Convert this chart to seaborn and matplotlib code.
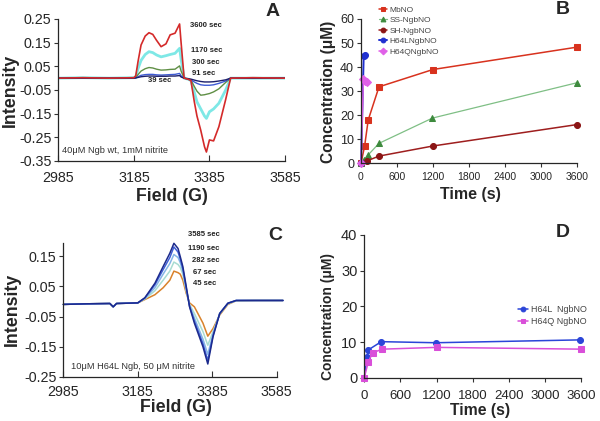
import numpy as np
import pandas as pd
import matplotlib
matplotlib.use("Agg")
import matplotlib.pyplot as plt
import seaborn as sns

# ---------------- DATA ----------------
# Panel A: EPR spectra, 40uM Ngb wt + 1mM nitrite
field_A = [2985, 3050, 3120, 3185, 3190, 3196, 3204, 3215, 3225, 3235, 3245, 3257, 3270,
           3281, 3294, 3306, 3310, 3318, 3328, 3336, 3345, 3352, 3362, 3372, 3377, 3385,
           3396, 3410, 3428, 3441, 3500, 3585]
A_3600 = [0.0, 0.002, 0.0, 0.002, 0.01, 0.07, 0.14, 0.178, 0.192, 0.185, 0.16, 0.133, 0.145,
          0.183, 0.19, 0.229, 0.15, 0.0, -0.004, -0.01, -0.10, -0.16, -0.22, -0.29, -0.312,
          -0.261, -0.265, -0.205, -0.09, 0.0, 0.002, 0.0]
A_1170 = [0.0, 0.002, 0.0, 0.002, 0.005, 0.04, 0.075, 0.10, 0.112, 0.108, 0.098, 0.09, 0.095,
          0.10, 0.105, 0.126, 0.08, 0.0, -0.004, -0.01, -0.06, -0.10, -0.13, -0.16, -0.17,
          -0.142, -0.13, -0.106, -0.05, 0.0, 0.0, 0.0]
A_300 = [0.0, 0.0, 0.0, 0.0, 0.002, 0.015, 0.03, 0.04, 0.045, 0.043, 0.038, 0.034, 0.035,
         0.037, 0.038, 0.052, 0.03, 0.0, -0.004, -0.008, -0.035, -0.055, -0.072, -0.07,
         -0.068, -0.065, -0.058, -0.045, -0.018, 0.0, 0.0, 0.0]
A_91 = [0.0, 0.0, 0.0, 0.0, 0.001, 0.006, 0.012, 0.015, 0.016, 0.016, 0.014, 0.013, 0.014,
        0.015, 0.016, 0.02, 0.01, 0.0, -0.004, -0.008, -0.016, -0.022, -0.028, -0.03, -0.03,
        -0.03, -0.028, -0.022, -0.012, 0.0, 0.0, 0.0]
A_39 = [0.0, 0.0, 0.0, 0.0, 0.001, 0.003, 0.006, 0.008, 0.009, 0.009, 0.008, 0.008, 0.008,
        0.009, 0.009, 0.011, 0.005, 0.0, -0.002, -0.004, -0.008, -0.011, -0.014, -0.016,
        -0.016, -0.016, -0.015, -0.012, -0.007, 0.0, 0.0, 0.0]
A_labels = ["3600 sec", "1170 sec", "300 sec", "91 sec", "39 sec"]

# Panel B: NO-heme formation
t_Mb = [0, 60, 120, 300, 1200, 3600]
c_Mb = [0, 7.1, 18, 31.8, 39, 48.3]
t_SS = [0, 50, 120, 300, 1190, 3600]
c_SS = [0, 1.5, 3.5, 8.3, 18.8, 33.5]
t_SH = [0, 100, 300, 1200, 3600]
c_SH = [0, 1.0, 3.0, 7.2, 16.1]
t_H64L_B = [0, 45, 67]
c_H64L_B = [0, 44.5, 45.2]
t_H64Q_B = [0, 40, 67, 100]
c_H64Q_B = [0, 35.2, 34.3, 33.8]
B_names = ["MbNO", "SS-NgbNO", "SH-NgbNO", "H64LNgbNO", "H64QNgbNO"]

# Panel C: EPR spectra, 10uM H64L Ngb + 50uM nitrite
field_C = [2985, 3050, 3110, 3119, 3128, 3185, 3204, 3231, 3253, 3271, 3282, 3293, 3299,
           3306, 3315, 3324, 3337, 3360, 3373, 3387, 3405, 3427, 3449, 3500, 3575]
C_3585 = [-0.010, -0.008, -0.007, -0.018, -0.007, -0.005, 0.012, 0.06, 0.115, 0.159, 0.192,
          0.175, 0.148, 0.115, 0.05, -0.018, -0.072, -0.15, -0.207, -0.117, -0.04, -0.006,
          0.003, 0.003, 0.003]
C_1190 = [-0.010, -0.008, -0.007, -0.018, -0.007, -0.005, 0.011, 0.055, 0.105, 0.145, 0.18,
          0.163, 0.14, 0.108, 0.045, -0.016, -0.065, -0.14, -0.195, -0.113, -0.04, -0.006,
          0.003, 0.003, 0.003]
C_282 = [-0.010, -0.008, -0.007, -0.018, -0.007, -0.005, 0.01, 0.045, 0.09, 0.125, 0.155,
         0.145, 0.128, 0.10, 0.04, -0.013, -0.055, -0.125, -0.175, -0.108, -0.04, -0.007,
         0.003, 0.003, 0.003]
C_67 = [-0.010, -0.008, -0.007, -0.018, -0.007, -0.005, 0.008, 0.035, 0.07, 0.10, 0.13,
        0.122, 0.112, 0.09, 0.035, -0.01, -0.04, -0.10, -0.145, -0.10, -0.042, -0.008,
        0.002, 0.003, 0.003]
C_45 = [-0.010, -0.008, -0.007, -0.018, -0.007, -0.005, 0.006, 0.022, 0.045, 0.07, 0.10,
        0.095, 0.09, 0.07, 0.027, -0.005, -0.018, -0.072, -0.115, -0.09, -0.045, -0.01,
        0.002, 0.003, 0.003]
C_labels = ["3585 sec", "1190 sec", "282 sec", "67 sec", "45 sec"]

# Panel D: H64L / H64Q NgbNO formation
t_H64L_D = [0, 45, 67, 282, 1190, 3585]
c_H64L_D = [0, 5.9, 7.8, 10.1, 9.8, 10.6]
t_H64Q_D = [0, 67, 140, 300, 1200, 3600]
c_H64Q_D = [0, 4.5, 7.0, 8.0, 8.5, 8.0]
D_names = ["H64L  NgbNO", "H64Q NgbNO"]

# ---------------- STYLE ----------------
sns.set_style("ticks")
plt.rcParams['font.family'] = ['Liberation Sans', 'DejaVu Sans']
plt.rcParams['axes.linewidth'] = 0.9

W, H = 600, 421
fig = plt.figure(figsize=(6.0, 4.21), dpi=100)

def rect(l, t, r, b):
    return [l / W, 1 - b / H, (r - l) / W, (b - t) / H]

def ftxt(x, y, s, **kw):
    fig.text(x / W, 1 - y / H, s, **kw)

def style(ax):
    sns.despine(ax=ax)
    ax.tick_params(length=3, width=0.8, color='#333333', pad=2)

def labels(ax, xl, yl, xs, ys, xc, yc, weight='bold'):
    ax.set_xlabel(xl, fontsize=xs, fontweight=weight)
    ax.set_ylabel(yl, fontsize=ys, fontweight=weight)
    ax.xaxis.label.set_va('center')
    ax.yaxis.label.set_va('center')
    ax.xaxis.set_label_coords(*xc)
    ax.yaxis.set_label_coords(*yc)

# ---------------- PANEL A ----------------
axA = fig.add_axes(rect(58.3, 19, 285, 161))
colsA = ['#d42a2a', '#7ee8e6', '#5f8f45', '#3e5bd4', '#1b1f6b']
lwA = [1.2, 2.0, 1.0, 1.0, 1.0]
seriesA = [A_3600, A_1170, A_300, A_91, A_39]
for i in [1, 2, 3, 4, 0]:
    sns.lineplot(x=field_A, y=seriesA[i], ax=axA, color=colsA[i], lw=lwA[i],
                 estimator=None, sort=False)
axA.set_xlim(2985, 3585)
axA.set_ylim(-0.35, 0.25)
axA.set_xticks([2985, 3185, 3385, 3585])
axA.set_yticks([-0.35, -0.25, -0.15, -0.05, 0.05, 0.15, 0.25])
axA.set_yticklabels(["-0.35", "-0.25", "-0.15", "-0.05", "0.05", "0.15", "0.25"])
style(axA)
axA.tick_params(axis='x', direction='in', length=4, pad=7)
axA.tick_params(labelsize=10.3)
labels(axA, "Field (G)", "Intensity", 12.8, 12.8, (0.503, -0.251), (-0.213, 0.5))

for (x, y), s in zip([(190, 25.7), (191, 51), (192, 62.3), (192, 73.7), (147.7, 81)], A_labels):
    ftxt(x, y, s, fontsize=5.5, fontweight='bold', color='#222222', va='center', ha='left')
ftxt(62, 150, "40\u03bcM Ngb wt, 1mM nitrite", fontsize=6.7, color='#333333', va='center')
ftxt(273, 12, "A", fontsize=14, fontweight='bold', ha='center', va='center')

# ---------------- PANEL B ----------------
axB = fig.add_axes(rect(361, 19, 577, 163.3))
specB = [
    (t_Mb, c_Mb, '#d8321e', '#d8321e', 's', 1.1),
    (t_SS, c_SS, '#7fbf85', '#3d8a3d', '^', 0.9),
    (t_SH, c_SH, '#9e1e1e', '#8b1515', 'o', 1.1),
    (t_H64L_B, c_H64L_B, '#2030d0', '#2030d0', 'o', 1.4),
    (t_H64Q_B, c_H64Q_B, '#e060e8', '#e060e8', 'D', 1.1),
]
for (tx, cy, lc, mc, mk, lw), name in zip(specB, B_names):
    sns.lineplot(x=tx, y=cy, ax=axB, color=lc, lw=lw, marker=mk, markersize=4.3,
                 markerfacecolor=mc, markeredgecolor=mc, estimator=None, sort=False,
                 clip_on=False, label=name)
axB.set_xlim(0, 3600)
axB.set_ylim(0, 60)
axB.set_xticks(np.arange(0, 3601, 600))
axB.set_yticks(np.arange(0, 61, 10))
style(axB)
axB.tick_params(axis='x', labelsize=7.5, pad=3)
axB.tick_params(axis='y', labelsize=9)
labels(axB, "Time (s)", "Concentration (\u03bcM)", 11.5, 11.2, (0.508, -0.215), (-0.151, 0.496))
legB = axB.legend(loc='upper left', bbox_to_anchor=(373 / W, 1 - 0 / H),
                  bbox_transform=fig.transFigure, frameon=False, fontsize=6,
                  handlelength=1.0, handletextpad=0.25, labelspacing=0.32,
                  borderpad=0.2, markerscale=0.8)
for txt in legB.get_texts():
    txt.set_color('#444444')
ftxt(563, 10, "B", fontsize=14, fontweight='bold', ha='center', va='center')

# ---------------- PANEL C ----------------
axC = fig.add_axes(rect(63.3, 243, 276.7, 377))
colsC = ['#1c2a8c', '#3f5fd6', '#86b6e6', '#a8dcd2', '#d9822b']
seriesC = [C_3585, C_1190, C_282, C_67, C_45]
for i in [4, 3, 2, 1, 0]:
    sns.lineplot(x=field_C, y=seriesC[i], ax=axC, color=colsC[i], lw=1.1,
                 estimator=None, sort=False, clip_on=False)
axC.set_xlim(2985, 3558)
axC.set_ylim(-0.25, 0.193)
axC.set_xticks([2985, 3185, 3385, 3558])
axC.set_xticklabels(["2985", "3185", "3385", "3585"])
axC.set_yticks([-0.25, -0.15, -0.05, 0.05, 0.15])
axC.set_yticklabels(["-0.25", "-0.15", "-0.05", "0.05", "0.15"])
style(axC)
axC.tick_params(axis='x', direction='in', length=4, pad=6)
axC.tick_params(labelsize=10.3)
labels(axC, "Field (G)", "Intensity", 12.8, 12.8, (0.527, -0.228), (-0.237, 0.506))
for (x, y), s in zip([(188.3, 235), (188.3, 248.3), (192, 261), (192.7, 272.3), (192.7, 283.3)], C_labels):
    ftxt(x, y, s, fontsize=5.5, fontweight='bold', color='#222222', va='center', ha='left')
ftxt(71, 366.7, "10\u03bcM H64L Ngb, 50 \u03bcM nitrite", fontsize=6.7, color='#333333', va='center')
ftxt(275, 235, "C", fontsize=14, fontweight='bold', ha='center', va='center')

# ---------------- PANEL D ----------------
axD = fig.add_axes(rect(364.3, 235, 581, 377.7))
specD = [
    (t_H64L_D, c_H64L_D, '#2b45d8', 'o'),
    (t_H64Q_D, c_H64Q_D, '#d94fd9', 's'),
]
for (tx, cy, col, mk), name in zip(specD, D_names):
    sns.lineplot(x=tx, y=cy, ax=axD, color=col, lw=1.1, marker=mk, markersize=4.3,
                 markerfacecolor=col, markeredgecolor=col, estimator=None, sort=False,
                 clip_on=False, label=name)
axD.set_xlim(0, 3600)
axD.set_ylim(0, 40)
axD.set_xticks(np.arange(0, 3601, 600))
axD.set_yticks(np.arange(0, 41, 10))
style(axD)
axD.tick_params(axis='x', labelsize=9.5, pad=6)
axD.tick_params(axis='y', labelsize=10.5)
labels(axD, "Time (s)", "Concentration (\u03bcM)", 11.3, 10, (0.534, -0.232), (-0.166, 0.427))
legD = axD.legend(loc='upper left', bbox_to_anchor=(512 / W, 1 - 299 / H),
                  bbox_transform=fig.transFigure, frameon=False, fontsize=6.4,
                  handlelength=1.1, handletextpad=0.3, labelspacing=0.35,
                  borderpad=0.2, markerscale=0.8)
for txt in legD.get_texts():
    txt.set_color('#444444')
ftxt(563, 233, "D", fontsize=14, fontweight='bold', ha='center', va='center')

fig.savefig("out.png", dpi=100)
